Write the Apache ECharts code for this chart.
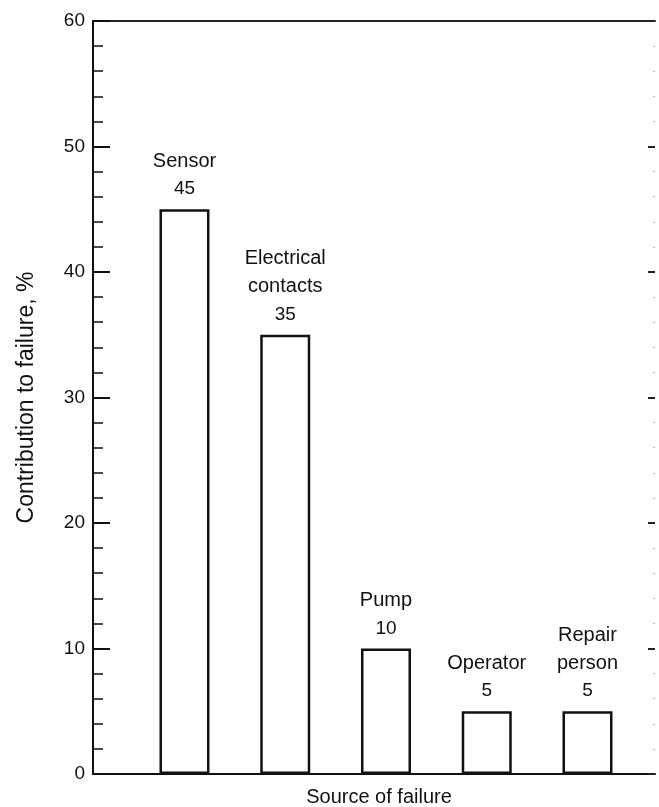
<!DOCTYPE html>
<html>
<head>
<meta charset="utf-8">
<script src="https://cdn.jsdelivr.net/npm/echarts@6/dist/echarts.min.js"></script>
<style>
  html, body { margin: 0; padding: 0; background: #fff; }
  #chart { width: 659px; height: 807px; }
</style>
</head>
<body>
<div id="chart"></div>
<script>
// data
const categories = ['Sensor', 'Electrical\ncontacts', 'Pump', 'Operator', 'Repair\nperson']
const values = [45, 35, 10, 5, 5]
const yTicks = [0, 10, 20, 30, 40, 50, 60]

const font = '"Liberation Sans", Arial, sans-serif'
let myChart = echarts.init(document.getElementById('chart'), null, { renderer: 'canvas' })

// bars sit at x = 1..5 on a plain value axis
let barData = values.map((v, i) => ({ value: [i + 1, v], name: categories[i] }))

let option = {
  backgroundColor: '#fff',
  animation: false,
  textStyle: { fontFamily: font, color: '#111' },
  grid: { left: 93, right: 4, top: 21, bottom: 33, outerBoundsMode: 'none' },
  xAxis: [
    {
      type: 'value',
      min: 0.092,
      max: 5.67,
      position: 'bottom',
      name: 'Source of failure',
      nameLocation: 'middle',
      nameGap: 13,
      nameTextStyle: { fontSize: 20, color: '#111', fontFamily: font, padding: [0, 0, 0, 10] },
      axisLine: { show: true, onZero: false, lineStyle: { color: '#111', width: 2 } },
      axisTick: { show: false },
      axisLabel: { show: false },
      splitLine: { show: false }
    },
    {
      type: 'value',
      min: 0.092,
      max: 5.67,
      position: 'top',
      axisLine: { show: true, onZero: false, lineStyle: { color: '#222', width: 2 } },
      axisTick: { show: false },
      axisLabel: { show: false },
      splitLine: { show: false }
    }
  ],
  yAxis: [
    {
      type: 'value',
      min: yTicks[0],
      max: yTicks[yTicks.length - 1],
      interval: 10,
      name: 'Contribution to failure, %',
      nameLocation: 'middle',
      nameGap: 55,
      nameTextStyle: { fontSize: 23, color: '#111', fontFamily: font },
      axisLine: { show: true, onZero: false, lineStyle: { color: '#111', width: 2 } },
      axisTick: { show: true, inside: true, length: 17, lineStyle: { color: '#111', width: 2 } },
      minorTick: { show: true, splitNumber: 5, length: 10, lineStyle: { color: '#111', width: 1.5 } },
      axisLabel: { fontSize: 19, color: '#111', margin: 8, fontFamily: font },
      splitLine: { show: false }
    },
    {
      type: 'value',
      min: yTicks[0],
      max: yTicks[yTicks.length - 1],
      interval: 10,
      position: 'right',
      axisLine: { show: false },
      axisTick: { show: true, inside: true, length: 7, lineStyle: { color: '#222', width: 2 } },
      minorTick: { show: true, splitNumber: 5, length: 2, lineStyle: { color: '#bbb', width: 1 } },
      axisLabel: { show: false },
      splitLine: { show: false }
    }
  ],
  series: [
    {
      type: 'bar',
      data: barData,
      barWidth: 50,
      itemStyle: { color: '#fff', borderColor: '#111', borderWidth: 2.5 },
      label: {
        show: true,
        position: 'top',
        distance: 6,
        formatter: p => '{n|' + p.name.split('\n').join('}\n{n|') + '}\n{v|' + p.value[1] + '}',
        rich: {
          n: { fontSize: 20, lineHeight: 28, color: '#111', fontFamily: font },
          v: { fontSize: 19, lineHeight: 28, color: '#111', fontFamily: font }
        }
      }
    }
  ]
}
myChart.setOption(option)
</script>
</body>
</html>
